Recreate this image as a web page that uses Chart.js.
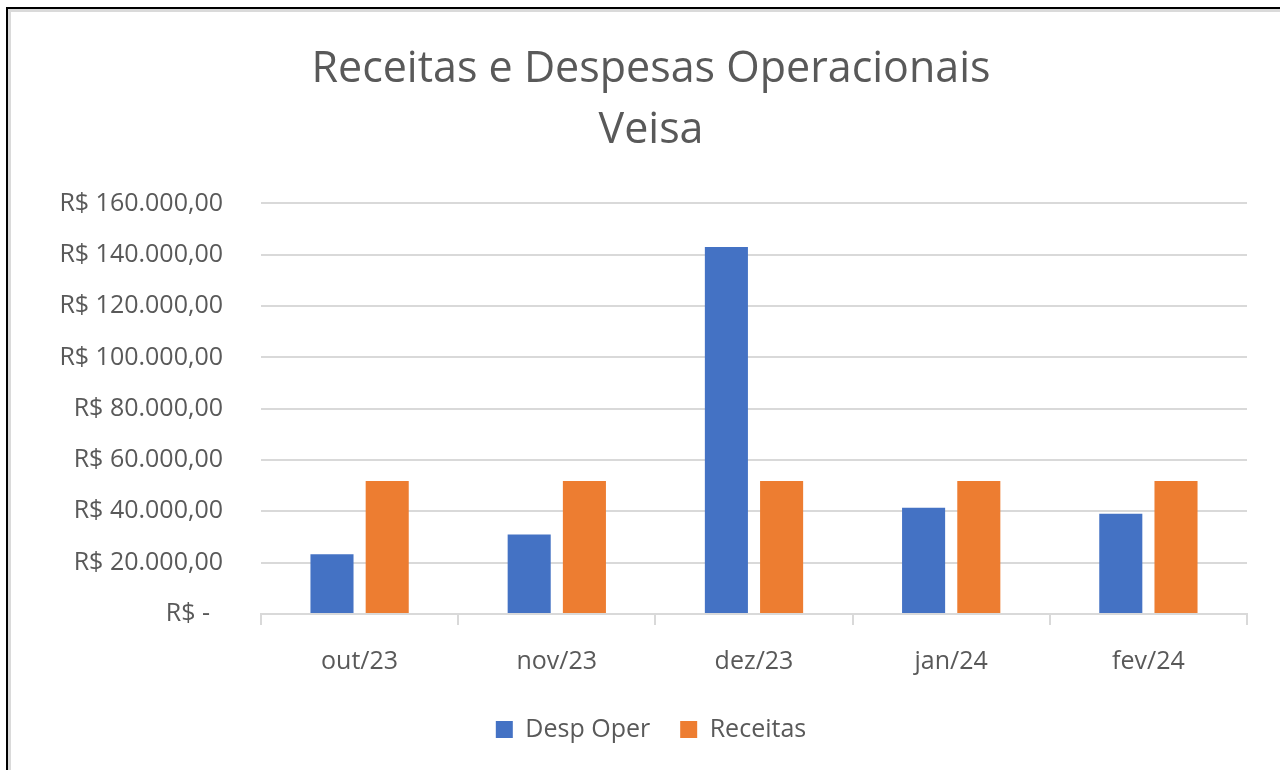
<!DOCTYPE html>
<html>
<head>
<meta charset="utf-8">
<script src="https://cdn.jsdelivr.net/npm/chart.js@4.4.0/dist/chart.umd.min.js"></script>
<style>
  body { margin: 0; background: #fff; overflow: hidden; }
  #frame { position: absolute; left: 6px; top: 7px; border: 2px solid #000; }
  #inner { border: 3px solid #dadada; width: 1280px; height: 760px; }
  canvas { display: block; }
</style>
</head>
<body>
<div id="frame"><div id="inner"><canvas id="chart" width="1280" height="760"></canvas></div></div>
<script>
// chart data
const months = ['out/23', 'nov/23', 'dez/23', 'jan/24', 'fev/24'];
const despOper = [23300, 31000, 143000, 41400, 39100];
const receitas = [51800, 51800, 51800, 51800, 51800];
const titleLines = ['Receitas e Despesas Operacionais', 'Veisa'];

const textColor = '#595959';
const gridColor = '#d9d9d9';
const fontFamily = "'Open Sans', 'Noto Sans', sans-serif";

// format like Excel accounting: R$ 160.000,00 / R$ -
function formatReal(value) {
    if (value === 0) return 'R$ -  ';
    const parts = value.toFixed(2).split('.');
    const intPart = parts[0].replace(/\B(?=(\d{3})+(?!\d))/g, '.');
    return 'R$ ' + intPart + ',' + parts[1];
}

const ctx = document.getElementById('chart').getContext('2d');
const chart = new Chart(ctx, {
    type: 'bar',
    data: {
        labels: months,
        datasets: [
            {
                label: 'Desp Oper',
                data: despOper,
                backgroundColor: '#4472C4'
            },
            {
                label: 'Receitas',
                data: receitas,
                backgroundColor: '#ED7D31'
            }
        ]
    },
    options: {
        responsive: false,
        animation: false,
        categoryPercentage: 0.56,
        barPercentage: 0.78,
        layout: { padding: { left: 0, right: 0, top: 0, bottom: 20 } },
        plugins: {
            tooltip: { enabled: false },
            title: {
                display: true,
                text: titleLines,
                color: textColor,
                font: { family: fontFamily, size: 43, weight: 'normal', lineHeight: 1.4 },
                padding: { top: 28, bottom: 43 }
            },
            legend: {
                position: 'bottom',
                labels: {
                    color: textColor,
                    font: { family: fontFamily, size: 25 },
                    boxWidth: 17,
                    boxHeight: 17,
                    padding: 30
                }
            }
        },
        scales: {
            x: {
                grid: {
                    offset: true,
                    drawOnChartArea: false,
                    drawTicks: true,
                    tickLength: 11,
                    color: gridColor,
                    lineWidth: 2
                },
                border: { display: true, color: gridColor, width: 2 },
                ticks: {
                    color: textColor,
                    font: { family: fontFamily, size: 25 },
                    padding: 22
                },
                afterFit: function(scale) { scale.height = scale.height - 12; }
            },
            y: {
                min: 0,
                max: 160000,
                grid: { color: gridColor, lineWidth: 2, drawTicks: false },
                border: { display: false },
                ticks: {
                    stepSize: 20000,
                    color: textColor,
                    font: { family: fontFamily, size: 25 },
                    padding: 38,
                    callback: function(value) { return formatReal(value); }
                },
                afterFit: function(scale) { scale.width = 250; }
            },
            y2: {
                position: 'right',
                display: true,
                grid: { display: false },
                border: { display: false },
                ticks: { display: false },
                afterFit: function(scale) { scale.width = 44; }
            }
        }
    }
});
</script>
</body>
</html>
